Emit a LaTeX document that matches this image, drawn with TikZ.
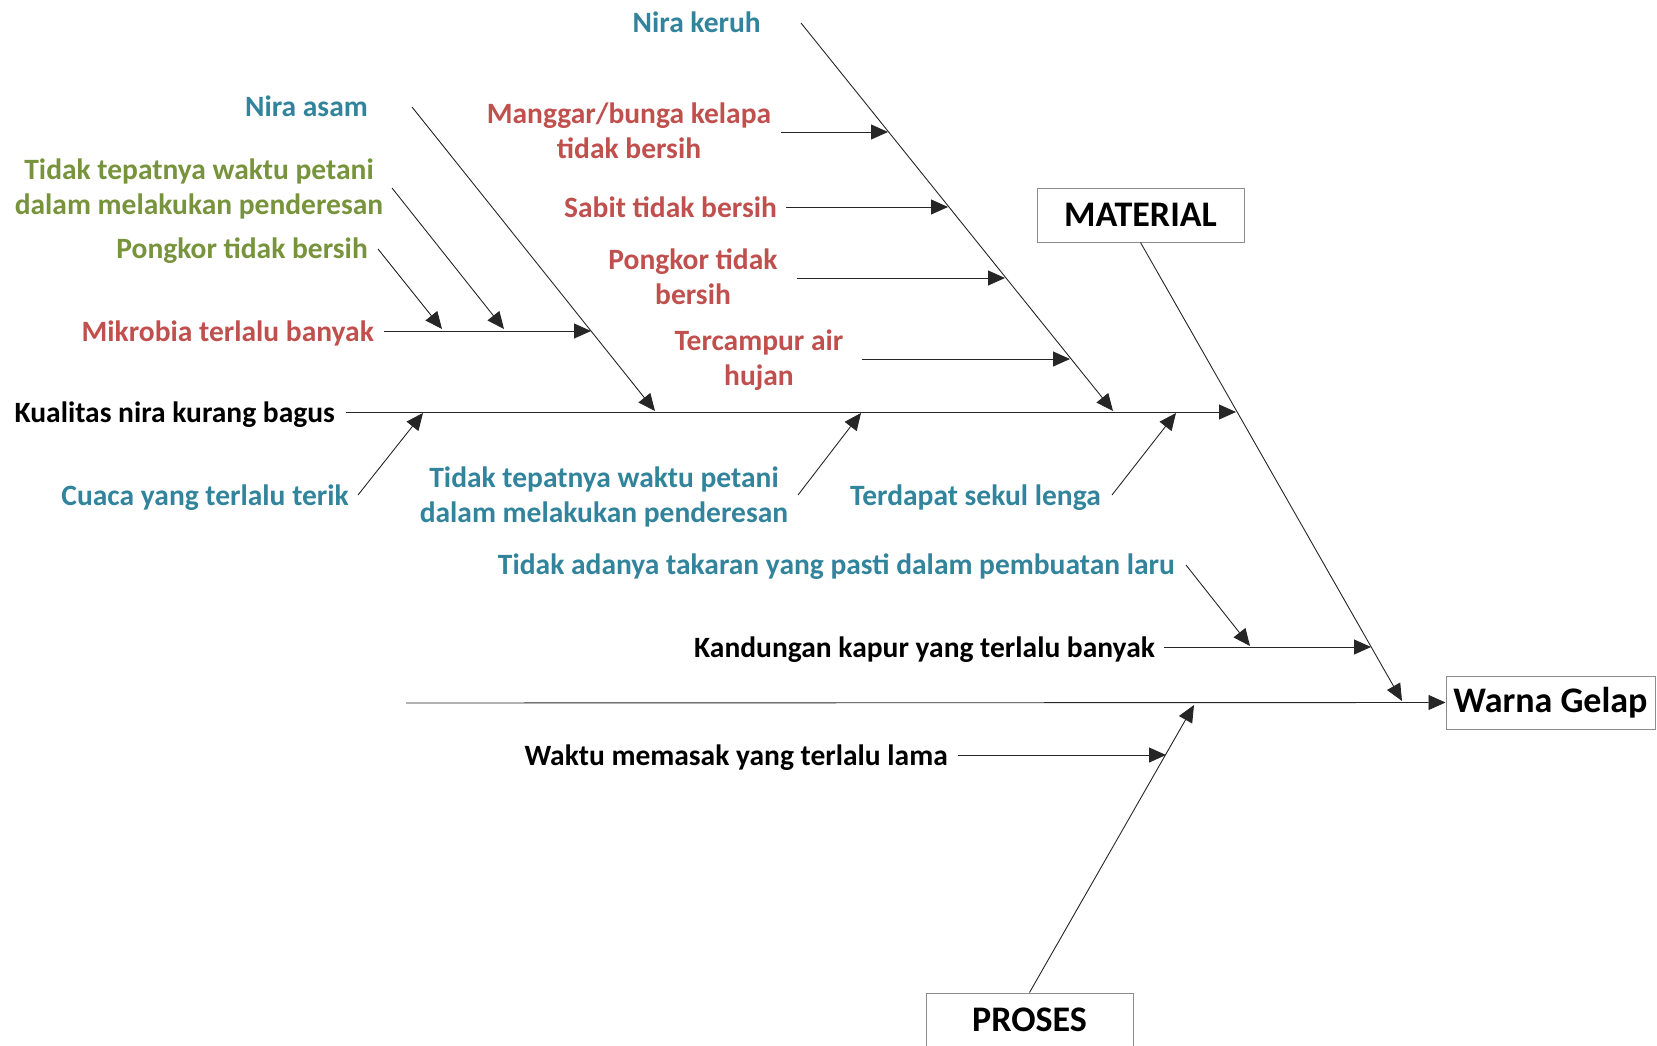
\documentclass[tikz,border=0pt]{standalone}
\usepackage{fontspec}
\setmainfont{Carlito}
\usetikzlibrary{arrows.meta,calc}
\definecolor{causeTeal}{HTML}{31849B}
\definecolor{causeRed}{HTML}{C0504D}
\definecolor{causeGreen}{HTML}{77933C}
\definecolor{boxGray}{HTML}{8C8C8C}
\begin{document}
\begin{tikzpicture}[x=1pt,y=-1pt,
  txt/.style={font=\bfseries\fontsize{29.5}{35}\selectfont, inner sep=0pt,
              text height=20pt, text depth=7pt},
  lbl/.style={txt, yshift=-3.5pt},
  ml/.style={txt, align=center, yshift=-20pt},
  box/.style={draw=boxGray, line width=1pt, fill=white, inner sep=0pt,
              font=\bfseries\fontsize{36}{42}\selectfont},
  bone/.style={line width=0.9pt, draw=black!85},
  arr/.style={bone, -{Triangle[length=17pt,width=15pt]}},
]
\useasboundingbox (0,0) rectangle (1657,1046);
\clip (0,0) rectangle (1657,1046);

% ---- head, spine and main categories ----
\node[box, minimum width=209pt, minimum height=53pt] (effect) at (1550.5,702.5) {Warna Gelap};
\coordinate (spineStart) at (406,703);
\draw[arr] (spineStart) -- (effect.west);

\node[box, minimum width=207pt, minimum height=54pt] (material) at (1140.5,215) {MATERIAL};
\coordinate (materialTip) at (1402,701);
\draw[arr] (material.south) -- (materialTip);

\node[box, minimum width=207pt, minimum height=54pt] (proses) at (1029.5,1020) {PROSES};
\coordinate (prosesTip) at (1194,705);
\draw[arr] (proses.north) -- (prosesTip);

% ---- sub-bone: Kualitas nira kurang bagus ----
\node[lbl, anchor=east] (kualitas) at (335,412) {Kualitas nira kurang bagus};
\coordinate (kualitasTip) at (1236,412);
\draw[arr, shorten <=11pt] (kualitas.east |- kualitasTip) -- (kualitasTip);

% Nira keruh bone and its causes
\node[lbl, anchor=east, text=causeTeal] (niraKeruh) at (761,23) {Nira keruh};
\coordinate (niraKeruhStart) at (801,23);
\coordinate (niraKeruhTip) at (1113,411);
\draw[arr] (niraKeruhStart) -- (niraKeruhTip);

\node[ml, text=causeRed] (manggar) at (629,132) {Manggar/bunga kelapa\\tidak bersih};
\coordinate (manggarTip) at (888,132);
\draw[arr, shorten <=10pt] (manggar.east |- manggarTip) -- (manggarTip);

\node[lbl, anchor=east, text=causeRed] (sabit) at (777,207) {Sabit tidak bersih};
\coordinate (sabitTip) at (948,207);
\draw[arr, shorten <=9pt] (sabit.east |- sabitTip) -- (sabitTip);

\node[ml, text=causeRed] (pongkorA) at (693,278) {Pongkor tidak\\bersih};
\coordinate (pongkorATip) at (1005,278);
\draw[arr, shorten <=19pt] (pongkorA.east |- pongkorATip) -- (pongkorATip);

\node[ml, text=causeRed] (tercampur) at (759,359) {Tercampur air\\hujan};
\coordinate (tercampurTip) at (1070,359);
\draw[arr, shorten <=18pt] (tercampur.east |- tercampurTip) -- (tercampurTip);

% Nira asam bone and its causes
\node[lbl, anchor=east, text=causeTeal] (niraAsam) at (368,107) {Nira asam};
\coordinate (niraAsamStart) at (412,107);
\coordinate (niraAsamTip) at (655,411);
\draw[arr] (niraAsamStart) -- (niraAsamTip);

\node[lbl, anchor=east, text=causeRed] (mikrobia) at (374,331) {Mikrobia terlalu banyak};
\coordinate (mikrobiaTip) at (591,331);
\draw[arr, shorten <=10pt] (mikrobia.east |- mikrobiaTip) -- (mikrobiaTip);

\node[ml, text=causeGreen] (tepatA) at (199,188) {Tidak tepatnya waktu petani\\dalam melakukan penderesan};
\coordinate (tepatAStart) at (392,188);
\coordinate (tepatATip) at (504,329);
\draw[arr] (tepatAStart) -- (tepatATip);

\node[lbl, anchor=east, text=causeGreen] (pongkorB) at (368,248) {Pongkor tidak bersih};
\coordinate (pongkorBStart) at (378,249);
\coordinate (pongkorBTip) at (442,329);
\draw[arr] (pongkorBStart) -- (pongkorBTip);

% causes below the Kualitas line
\node[lbl, anchor=east, text=causeTeal] (cuaca) at (349,495) {Cuaca yang terlalu terik};
\coordinate (cuacaStart) at (358,495);
\coordinate (cuacaTip) at (423,413);
\draw[arr] (cuacaStart) -- (cuacaTip);

\node[ml, text=causeTeal] (tepatB) at (604,496) {Tidak tepatnya waktu petani\\dalam melakukan penderesan};
\coordinate (tepatBStart) at (798,495);
\coordinate (tepatBTip) at (861,413);
\draw[arr] (tepatBStart) -- (tepatBTip);

\node[lbl, anchor=east, text=causeTeal] (sekul) at (1101,495) {Terdapat sekul lenga};
\coordinate (sekulStart) at (1112,495);
\coordinate (sekulTip) at (1176,413);
\draw[arr] (sekulStart) -- (sekulTip);

% ---- sub-bone: Kandungan kapur ----
\node[lbl, anchor=east] (kapur) at (1155,647) {Kandungan kapur yang terlalu banyak};
\coordinate (kapurTip) at (1371,647);
\draw[arr, shorten <=9pt] (kapur.east |- kapurTip) -- (kapurTip);

\node[lbl, anchor=east, text=causeTeal] (takaran) at (1175,564) {Tidak adanya takaran yang pasti dalam pembuatan laru};
\coordinate (takaranStart) at (1186,565);
\coordinate (takaranTip) at (1250,646);
\draw[arr] (takaranStart) -- (takaranTip);

% ---- proses cause ----
\node[lbl, anchor=east] (waktu) at (948,755) {Waktu memasak yang terlalu lama};
\coordinate (waktuTip) at (1166,755);
\draw[arr, shorten <=10pt] (waktu.east |- waktuTip) -- (waktuTip);

\end{tikzpicture}
\end{document}
